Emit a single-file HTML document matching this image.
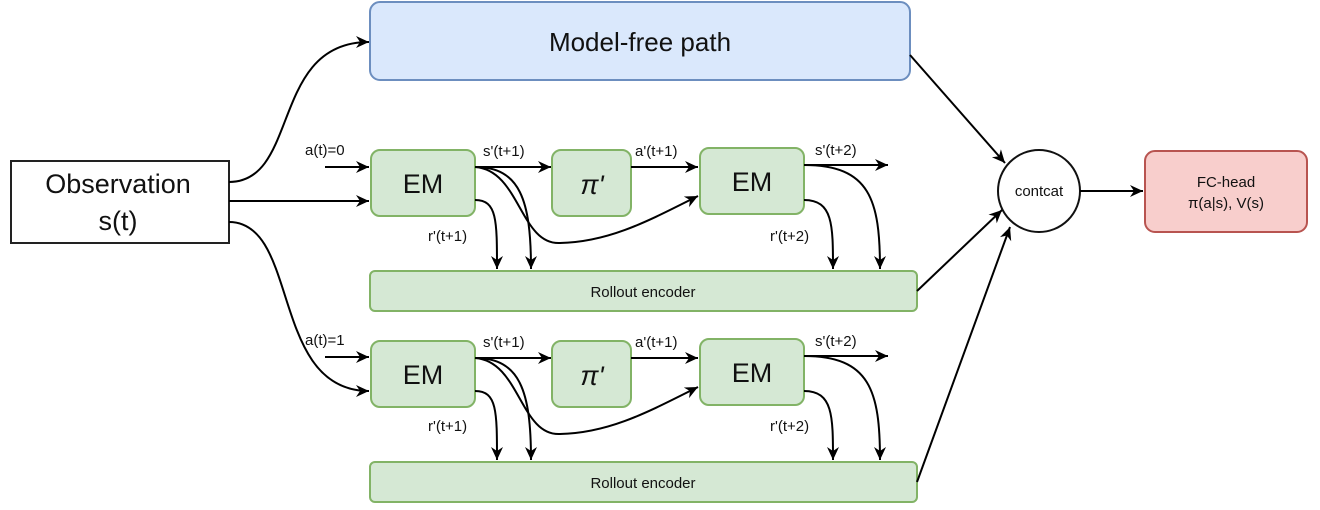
<!DOCTYPE html>
<html><head><meta charset="utf-8"><style>
html,body{margin:0;padding:0;background:#fff;}
svg{display:block;}
text{font-family:"Liberation Sans",Arial,sans-serif;fill:#111;}
</style></head><body>
<svg width="1320" height="510" viewBox="0 0 1320 510" xmlns="http://www.w3.org/2000/svg">
<defs>
<marker id="a" markerWidth="14" markerHeight="14" refX="13" refY="6" orient="auto" markerUnits="userSpaceOnUse">
<path d="M0,0 L13,6 L0,12 L4,6 Z" fill="#000"/></marker>
</defs>
<rect x="11" y="161" width="218" height="82" fill="#fff" stroke="#222" stroke-width="2"/>
<text x="118" y="193" font-size="27" text-anchor="middle">Observation</text>
<text x="118" y="230" font-size="27" text-anchor="middle">s(t)</text>

<rect x="370" y="2" width="540" height="78" rx="10" fill="#dae8fc" stroke="#6c8ebf" stroke-width="2"/>
<text x="640" y="51" font-size="26" text-anchor="middle">Model-free path</text>

<g stroke="#82b366" stroke-width="2" fill="#d5e8d4">
<rect x="371" y="150" width="104" height="66" rx="9"/>
<rect x="552" y="150" width="79" height="66" rx="9"/>
<rect x="700" y="148" width="104" height="66" rx="9"/>
<rect x="370" y="271" width="547" height="40" rx="5"/>
<rect x="371" y="341" width="104" height="66" rx="9"/>
<rect x="552" y="341" width="79" height="66" rx="9"/>
<rect x="700" y="339" width="104" height="66" rx="9"/>
<rect x="370" y="462" width="547" height="40" rx="5"/>
</g>
<g font-size="27" text-anchor="middle">
<text x="423" y="193">EM</text><text x="752" y="191">EM</text>
<text x="423" y="384">EM</text><text x="752" y="382">EM</text>
<text x="592" y="194" font-family="Liberation Serif,serif" font-style="italic">π'</text>
<text x="592" y="385" font-family="Liberation Serif,serif" font-style="italic">π'</text>
</g>
<g font-size="15" text-anchor="middle">
<text x="643" y="297">Rollout encoder</text>
<text x="643" y="488">Rollout encoder</text>
</g>
<circle cx="1039" cy="191" r="41" fill="#fff" stroke="#111" stroke-width="2"/>
<text x="1039" y="196" font-size="15" text-anchor="middle">contcat</text>
<rect x="1145" y="151" width="162" height="81" rx="10" fill="#f8cecc" stroke="#b85450" stroke-width="2"/>
<text x="1226" y="187" font-size="15" text-anchor="middle">FC-head</text>
<text x="1226" y="208" font-size="15" text-anchor="middle">π(a|s), V(s)</text>

<g font-size="15">
<text x="305" y="155">a(t)=0</text><text x="305" y="345">a(t)=1</text>
<text x="483" y="156">s'(t+1)</text><text x="635" y="156">a'(t+1)</text><text x="815" y="155">s'(t+2)</text>
<text x="428" y="241">r'(t+1)</text><text x="770" y="241">r'(t+2)</text>
<text x="483" y="347">s'(t+1)</text><text x="635" y="347">a'(t+1)</text><text x="815" y="346">s'(t+2)</text>
<text x="428" y="431">r'(t+1)</text><text x="770" y="431">r'(t+2)</text>
</g>

<g stroke="#000" stroke-width="2" fill="none" marker-end="url(#a)">
<path d="M229,182 C300,182 270,42 369,42"/>
<path d="M229,201 L369,201"/>
<path d="M229,222 C300,222 270,391 369,391"/>
<path d="M325,167 L369,167"/>
<path d="M325,357 L369,357"/>
<path d="M910,55 L1005,163"/>
<path d="M917,291 L1002,210"/>
<path d="M917,482 L1010,227"/>
<path d="M1080,191 L1143,191"/>
</g>
<g id="row" stroke="#000" stroke-width="2" fill="none" marker-end="url(#a)">
<path d="M475,167 L551,167"/>
<path d="M631,167 L698,167"/>
<path d="M804,165 L888,165"/>
<path d="M475,167 C520,167 531,200 531,269"/>
<path d="M475,167 C520,170 520,245 560,243 C610,242 650,220 698,196"/>
<path d="M475,200 C497,200 497,220 497,269"/>
<path d="M804,200 C833,200 833,225 833,269"/>
<path d="M804,165 C870,165 880,200 880,269"/>
</g>
<use href="#row" transform="translate(0,191)"/>
</svg>
</body></html>
